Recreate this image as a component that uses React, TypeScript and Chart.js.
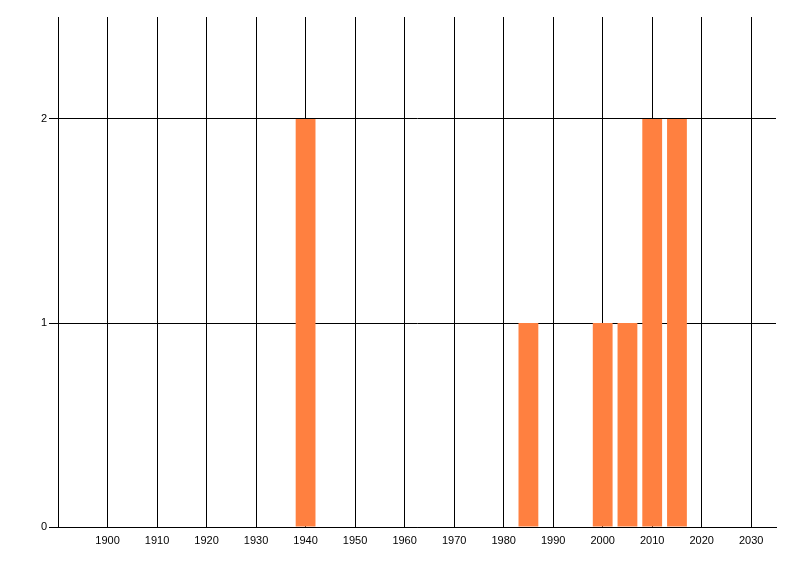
import React, { useEffect, useRef } from 'react';
import { Chart, registerables } from 'chart.js';

Chart.register(...registerables);

const years = [1940, 1985, 2000, 2005, 2010, 2015];
const counts = [2, 1, 1, 1, 2, 2];
const xTicks = [1900, 1910, 1920, 1930, 1940, 1950, 1960, 1970, 1980, 1990, 2000, 2010, 2020, 2030];
const yTicks = [0, 1, 2];

const YearChart: React.FC = () => {
  const chartRef = useRef<HTMLCanvasElement>(null);
  const chartInstanceRef = useRef<Chart | null>(null);

  useEffect(() => {
    if (!chartRef.current) return;
    if (chartInstanceRef.current) chartInstanceRef.current.destroy();
    const ctx = chartRef.current.getContext('2d');
    if (!ctx) return;

    chartInstanceRef.current = new Chart(ctx, {
      type: 'bar',
      data: {
        datasets: [{
          data: years.map((y, i) => ({ x: y, y: counts[i] })),
          backgroundColor: '#ff8040',
          borderWidth: 0,
          barPercentage: 1,
          categoryPercentage: 0.8,
        }]
      },
      options: {
        animation: false,
        responsive: true,
        maintainAspectRatio: false,
        layout: { padding: { left: 0, right: 24, top: 17, bottom: 0 } },
        plugins: { legend: { display: false }, tooltip: { enabled: false } },
        scales: {
          x: {
            type: 'linear',
            min: 1890,
            max: 2035,
            offset: false,
            afterBuildTicks: (axis: any) => { axis.ticks = xTicks.map(v => ({ value: v })); },
            afterFit: (axis: any) => { axis.height = 49; },
            grid: { color: '#000', lineWidth: 1, drawTicks: false, offset: false },
            border: { color: '#000', width: 1 },
            ticks: {
              color: '#000',
              padding: 7,
              maxRotation: 0,
              autoSkip: false,
              font: { family: 'Liberation Sans', size: 11 },
              callback: (v: any) => String(v),
            },
          },
          y: {
            min: 0,
            max: 2.5,
            afterBuildTicks: (axis: any) => { axis.ticks = yTicks.map(v => ({ value: v })); },
            afterFit: (axis: any) => { axis.width = 58; },
            grid: { color: '#000', lineWidth: 1, drawTicks: true, tickLength: 9 },
            border: { color: '#000', width: 1 },
            ticks: {
              color: '#000',
              padding: 2,
              font: { family: 'Liberation Sans', size: 11 },
            },
          },
        },
      },
    });

    return () => {
      if (chartInstanceRef.current) {
        chartInstanceRef.current.destroy();
        chartInstanceRef.current = null;
      }
    };
  }, []);

  return (
    <div style={{ position: 'fixed', left: 0, top: 0, width: 800, height: 576, background: '#fff' }}>
      <canvas ref={chartRef}></canvas>
    </div>
  );
};

export default function App() {
  return <YearChart />;
}
